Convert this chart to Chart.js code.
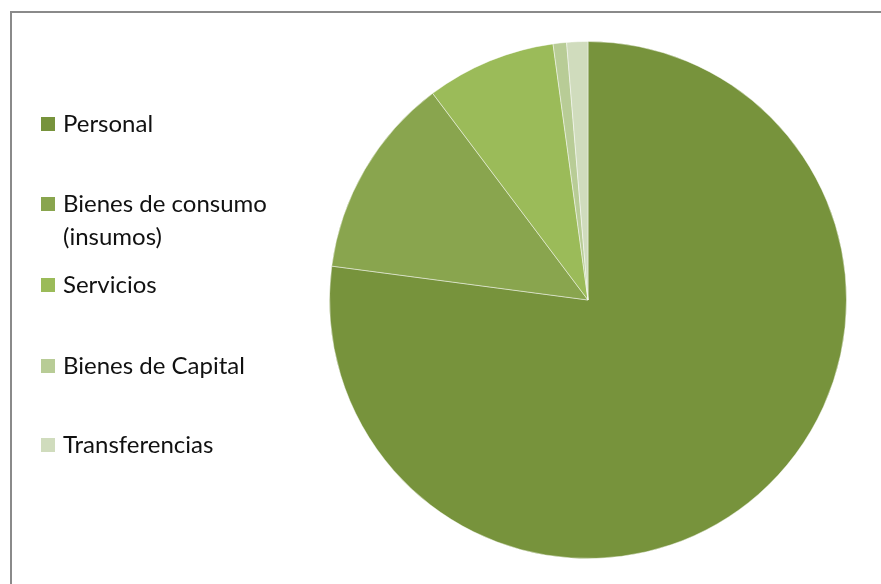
<!DOCTYPE html>
<html>
<head>
<meta charset="utf-8">
<script src="https://cdn.jsdelivr.net/npm/chart.js@4"></script>
<style>
  body { margin: 0; background: #fff; }
  canvas { display: block; }
</style>
</head>
<body>
<canvas id="gasto" width="881" height="584"></canvas>
<script>
// categories and shares (%)
let categories = ['Personal', ['Bienes de consumo', '(insumos)'], 'Servicios', 'Bienes de Capital', 'Transferencias'];
let shares = [77.1, 12.65, 8.1, 0.84, 1.32];
let colors = ['#77933c', '#89a54e', '#9bbb59', '#b8cc96', '#d0dcbd'];

let gasto = document.getElementById('gasto').getContext('2d');

// grey frame round the chart, like the spreadsheet chart box
let framePlugin = {
    id: 'frame',
    beforeDraw(chart) {
        let ctx = chart.ctx;
        ctx.save();
        ctx.strokeStyle = '#8a8a8a';
        ctx.lineWidth = 2;
        ctx.strokeRect(11, 12, chart.width + 20, chart.height + 20);
        ctx.restore();
    }
};

// legend on the left with wide gaps, drawn from the chart's own labels
let sideLegend = {
    id: 'sideLegend',
    afterDraw(chart) {
        let ctx = chart.ctx;
        let ds = chart.data.datasets[0];
        ctx.save();
        ctx.font = '24px Lato, "Open Sans", sans-serif';
        ctx.textBaseline = 'middle';
        let tops = [124, 204, 285, 366, 445];
        chart.data.labels.forEach((lab, i) => {
            let y = tops[i];
            ctx.fillStyle = ds.backgroundColor[i];
            ctx.fillRect(41, y - 7, 14, 14);
            ctx.fillStyle = '#111';
            let lines = Array.isArray(lab) ? lab : [lab];
            lines.forEach((t, j) => ctx.fillText(t, 63, y + j * 33));
        });
        ctx.restore();
    }
};

let gastoChart = new Chart(gasto, {
    type: 'pie',
    data: {
        labels: categories,
        datasets: [{
            data: shares,
            backgroundColor: colors,
            borderWidth: 1,
            borderColor: 'rgba(255,255,255,0.45)'
        }]
    },
    options: {
        responsive: false,
        animation: false,
        layout: {
            padding: { left: 329, right: 34, top: 41, bottom: 25 }
        },
        plugins: {
            legend: { display: false },
            tooltip: { enabled: false }
        }
    },
    plugins: [framePlugin, sideLegend]
});
</script>
</body>
</html>
